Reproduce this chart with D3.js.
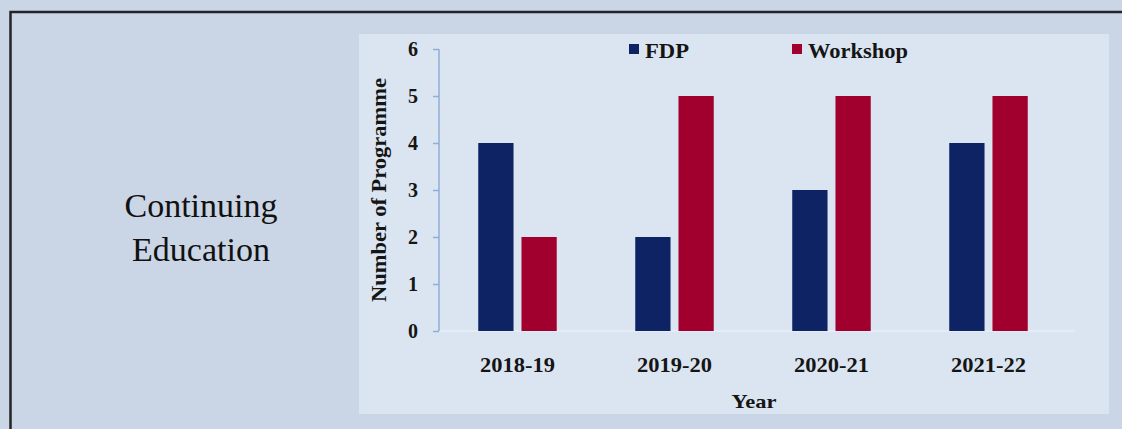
<!DOCTYPE html>
<html>
<head>
<meta charset="utf-8">
<script src="https://cdn.jsdelivr.net/npm/d3@7"></script>
<style>
  html, body { margin: 0; padding: 0; background: #cad5e6; }
  svg { display: block; }
</style>
</head>
<body>
<svg id="chart" width="1122" height="429"></svg>
<script>
// Programme counts per academic year
const years = ["2018-19", "2019-20", "2020-21", "2021-22"];
const series = ["FDP", "Workshop"];
const fdpValues = [4, 2, 3, 4];
const workshopValues = [2, 5, 5, 5];
const yTicks = [0, 1, 2, 3, 4, 5, 6];

const colors = { FDP: "#0d2363", Workshop: "#a1002f" };
const rows = years.map((y, i) => ({ year: y, FDP: fdpValues[i], Workshop: workshopValues[i] }));

const svg = d3.select("#chart");
const serif = "'Liberation Serif', 'Times New Roman', serif";

// page background and outer frame
svg.append("rect").attr("x", 0).attr("y", 0).attr("width", 1122).attr("height", 429).attr("fill", "#cad5e6");
svg.append("rect")
  .attr("x", 10.5).attr("y", 12)
  .attr("width", 1200).attr("height", 500)
  .attr("fill", "none").attr("stroke", "#232427").attr("stroke-width", 2.5);

// side caption
const cap = svg.append("text")
  .attr("x", 201).attr("text-anchor", "middle")
  .style("font-family", serif).style("font-size", "34px").attr("fill", "#111");
cap.append("tspan").attr("x", 201).attr("y", 217).text("Continuing");
cap.append("tspan").attr("x", 201).attr("y", 261).text("Education");

// chart panel
svg.append("rect")
  .attr("x", 359).attr("y", 34).attr("width", 750).attr("height", 380)
  .attr("fill", "#dbe5f1");

const x0 = d3.scaleBand().domain(years).range([439, 1067]).paddingInner(0.5).paddingOuter(0.25);
const x1 = d3.scaleBand().domain(series).range([0, x0.bandwidth()]).paddingInner(0.184);
const y = d3.scaleLinear().domain([0, 6]).range([331, 49]);

// baseline
svg.append("line")
  .attr("x1", 439).attr("x2", 1075).attr("y1", y(0)).attr("y2", y(0))
  .attr("stroke", "#e9eef5").attr("stroke-width", 1.5);

// bars
const groups = svg.append("g").selectAll("g").data(rows).join("g")
  .attr("transform", d => `translate(${x0(d.year)},0)`);
groups.selectAll("rect")
  .data(d => series.map(s => ({ key: s, value: d[s] })))
  .join("rect")
  .attr("x", d => x1(d.key))
  .attr("width", x1.bandwidth())
  .attr("y", d => y(d.value))
  .attr("height", d => y(0) - y(d.value))
  .attr("fill", d => colors[d.key]);

// y axis
const yAxis = svg.append("g")
  .attr("transform", "translate(439,0)")
  .call(d3.axisLeft(y).tickValues(yTicks).tickSize(6).tickPadding(15).tickFormat(d3.format("d")));
yAxis.selectAll("path, line").attr("stroke", "#8eaed6").attr("stroke-width", 1.5);
yAxis.select(".domain").attr("d", `M0,${y(6)}V${y(0)}`);
yAxis.selectAll("text")
  .style("font-family", serif).style("font-size", "20px").style("font-weight", "bold")
  .attr("fill", "#151515");

// x axis labels
const xAxis = svg.append("g")
  .attr("transform", `translate(0,${y(0)})`)
  .call(d3.axisBottom(x0).tickSize(0).tickPadding(30));
xAxis.select(".domain").remove();
xAxis.selectAll("text")
  .attr("dy", 0).attr("y", 41)
  .attr("textLength", 75).attr("lengthAdjust", "spacingAndGlyphs")
  .style("font-family", serif).style("font-size", "20px").style("font-weight", "bold")
  .attr("fill", "#151515");

// axis titles
svg.append("text")
  .attr("x", 754).attr("y", 408).attr("text-anchor", "middle")
  .attr("textLength", 45).attr("lengthAdjust", "spacingAndGlyphs")
  .style("font-family", serif).style("font-size", "19px").style("font-weight", "bold")
  .attr("fill", "#151515").text("Year");

svg.append("text")
  .attr("transform", "translate(386,190) rotate(-90)")
  .attr("text-anchor", "middle")
  .attr("textLength", 224).attr("lengthAdjust", "spacingAndGlyphs")
  .style("font-family", serif).style("font-size", "20px").style("font-weight", "bold")
  .attr("fill", "#151515").text("Number of Programme");

// legend
const legendPos = [{ key: "FDP", x: 629, w: 44 }, { key: "Workshop", x: 792, w: 100 }];
const lg = svg.append("g").selectAll("g").data(legendPos).join("g");
lg.append("rect")
  .attr("x", d => d.x).attr("y", 44).attr("width", 10).attr("height", 10)
  .attr("fill", d => colors[d.key]);
lg.append("text")
  .attr("x", d => d.x + 16).attr("y", 58)
  .attr("textLength", d => d.w).attr("lengthAdjust", "spacingAndGlyphs")
  .style("font-family", serif).style("font-size", "20px").style("font-weight", "bold")
  .attr("fill", "#151515").text(d => d.key);
</script>
</body>
</html>
